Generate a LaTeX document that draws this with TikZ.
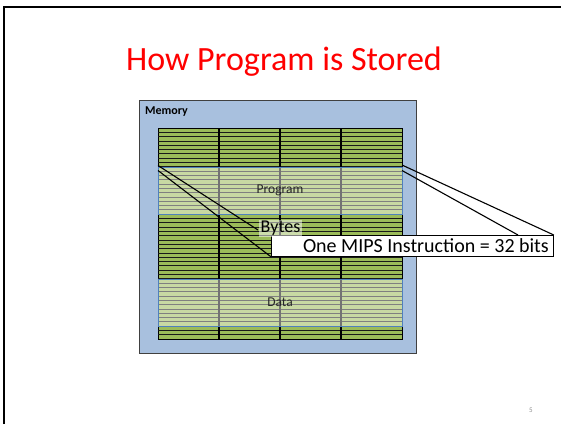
\documentclass[tikz,border=0pt]{standalone}
\usepackage{fontspec}
\setmainfont{Carlito}
\definecolor{memblue}{RGB}{168,192,222}
\definecolor{bytegreen}{RGB}{155,187,89}
\definecolor{regblue}{RGB}{79,129,189}
\begin{document}
\begin{tikzpicture}[x=1pt,y=-1pt,
  region/.style={fill=white, fill opacity=0.45, draw=regblue, draw opacity=1, line width=0.8pt,
    minimum width=244, minimum height=47.4, anchor=north west, inner sep=0pt},
  reglabel/.style={font=\fontsize{13.5}{15}\selectfont, text=black!85},
  callout/.style={draw=black, line width=1.1pt}]
\useasboundingbox (0,0) rectangle (561,424);
% slide frame
\draw[line width=2pt] (4,424) -- (4,7) -- (561,7);
% title
\node[font=\fontsize{34}{40}\selectfont, text=red] (title) at (284,62) {How Program is Stored};
% memory box
\node[draw=black!75, line width=0.8pt, fill=memblue, minimum width=277, minimum height=253,
  anchor=north west, inner sep=0pt] (mem) at (139,100) {};
\node[anchor=west, font=\bfseries\fontsize{12}{13}\selectfont, inner sep=0pt] (memlbl) at (145,112) {Memory};
% byte grid
\node[fill=bytegreen, draw=black, line width=0.8pt, minimum width=244, minimum height=211,
  anchor=north west, inner sep=0pt] (grid) at (158,128) {};
\foreach \i in {1,...,48}
  \draw[line width=0.7pt, black!90] (158,128+\i*4.3061) -- (402,128+\i*4.3061);
\foreach \x in {219,280,341}
  \draw[line width=1.3pt] (\x,128) -- (\x,339);
% regions
\node[region] (progreg) at (158,166.75) {};
\node[region] (datareg) at (158,278.7) {};
\node[reglabel] (proglbl) at (280,190) {Program};
\node[reglabel] (datalbl) at (280,302) {Data};
% callouts
\coordinate (pl1) at (158,165.5);
\coordinate (pl2) at (158,170.5);
\coordinate (pr1) at (402,165);
\coordinate (pr2) at (402,170.5);
\coordinate (mtop) at (518,235);
\node[draw=black, line width=0.8pt, fill=white, minimum width=282, minimum height=21,
  anchor=north west, inner sep=0pt] (mips) at (271,235) {};
\node[anchor=east, inner sep=0pt, font=\fontsize{20}{22}\selectfont] (mipstext) at (549,246) {One MIPS Instruction = 32 bits};
\draw[callout] (pl1) -- (258,230);
\draw[callout] (pl2) -- (mips.south west);
\draw[callout] (pr1) -- (mips.north east);
\draw[callout] (pr2) -- (mtop);
\node[fill=white, fill opacity=0.5, text opacity=1, inner sep=1.5pt,
  font=\fontsize{18}{20}\selectfont] (bytes) at (280.5,228.5) {Bytes};
% page number
\node[text=black!45, font=\fontsize{7}{8}\selectfont] (pagenum) at (531,410) {5};
\end{tikzpicture}
\end{document}
